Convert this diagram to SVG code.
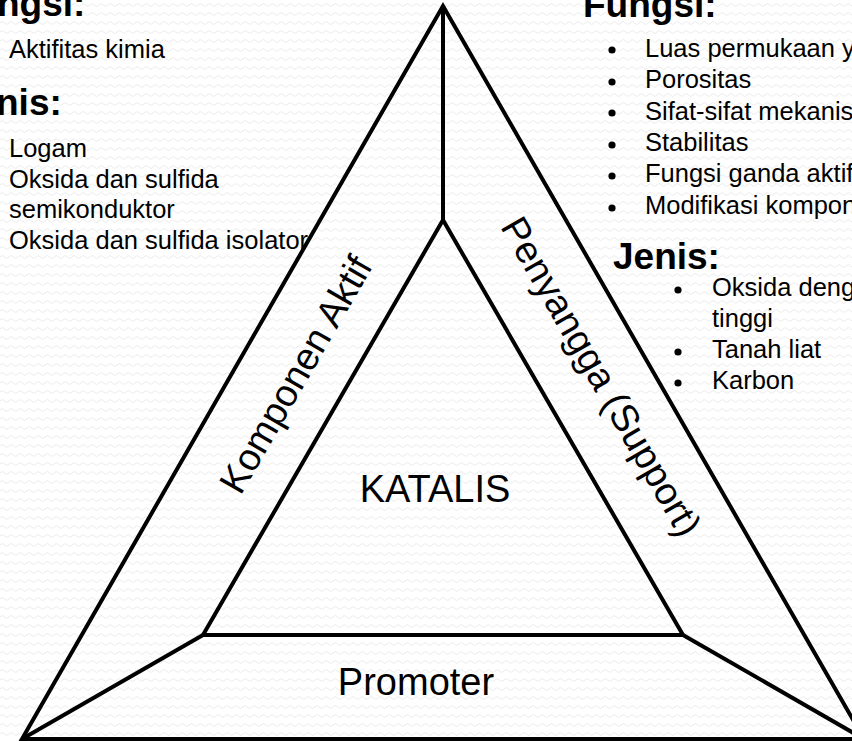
<svg xmlns="http://www.w3.org/2000/svg" width="852" height="741" viewBox="0 0 852 741">
  <defs>
    <pattern id="bgwave" width="9" height="9" patternUnits="userSpaceOnUse">
      <path d="M0 5 Q2.25 2 4.5 5 T9 5" fill="none" stroke="#e9e9e9" stroke-width="0.9"/>
    </pattern>
  </defs>
  <style>
    .edge { fill: none; stroke: #000; stroke-width: 4; stroke-linejoin: miter; stroke-linecap: butt; }
    .head { font-family: "Liberation Sans", Arial, sans-serif; font-weight: bold; font-size: 37px; fill: #000; }
    .body { font-family: "Liberation Sans", Arial, sans-serif; font-size: 25.5px; fill: #000; }
    .label { font-family: "Liberation Sans", Arial, sans-serif; font-size: 38px; fill: #000; text-anchor: middle; }
    .bullet { fill: #000; }
  </style>
  <rect x="0" y="0" width="852" height="741" fill="#fff"/>
  <rect x="0" y="0" width="852" height="741" fill="url(#bgwave)"/>

  <g id="connectors">
    <polygon class="edge" points="443,6 864,739 22,739"/>
    <polygon class="edge" points="443,220 683,635 203,635"/>
    <line class="edge" x1="443" y1="6" x2="443" y2="220"/>
    <line class="edge" x1="203" y1="635" x2="22" y2="739"/>
    <line class="edge" x1="683" y1="635" x2="864" y2="739"/>
  </g>

  <g id="katalis">
    <text class="label" x="435" y="502">KATALIS</text>
  </g>
  <g id="promoter">
    <text class="label" x="416" y="695">Promoter</text>
  </g>
  <g id="komponen-aktif">
    <text class="label" transform="translate(307,381) rotate(-60)" x="0" y="0">Komponen Aktif</text>
  </g>
  <g id="penyangga">
    <text class="label" transform="translate(590,383) rotate(60)" x="0" y="0">Penyangga (Support)</text>
  </g>

  <g id="left-info">
    <text class="head" x="-3" y="16">ngsi:</text>
    <text class="body" x="9" y="58">Aktifitas kimia</text>
    <text class="head" x="-4" y="115">nis:</text>
    <text class="body" x="9" y="157">Logam</text>
    <text class="body" x="9" y="188">Oksida dan sulfida</text>
    <text class="body" x="9" y="218">semikonduktor</text>
    <text class="body" x="9" y="249">Oksida dan sulfida isolator</text>
  </g>

  <g id="right-info">
    <text class="head" x="583" y="17">Fungsi:</text>
    <circle class="bullet" cx="612" cy="50" r="3.6"/>
    <text class="body" x="645" y="57">Luas permukaan y</text>
    <circle class="bullet" cx="612" cy="82" r="3.6"/>
    <text class="body" x="645" y="88">Porositas</text>
    <circle class="bullet" cx="612" cy="113" r="3.6"/>
    <text class="body" x="645" y="120">Sifat-sifat mekanis</text>
    <circle class="bullet" cx="612" cy="145" r="3.6"/>
    <text class="body" x="645" y="151">Stabilitas</text>
    <circle class="bullet" cx="612" cy="176" r="3.6"/>
    <text class="body" x="645" y="182">Fungsi ganda aktif</text>
    <circle class="bullet" cx="612" cy="208" r="3.6"/>
    <text class="body" x="645" y="214">Modifikasi kompon</text>

    <text class="head" x="613" y="269">Jenis:</text>
    <circle class="bullet" cx="678" cy="290" r="3.6"/>
    <text class="body" x="712" y="296">Oksida deng</text>
    <text class="body" x="712" y="327">tinggi</text>
    <circle class="bullet" cx="678" cy="352" r="3.6"/>
    <text class="body" x="712" y="358">Tanah liat</text>
    <circle class="bullet" cx="678" cy="383" r="3.6"/>
    <text class="body" x="712" y="389">Karbon</text>
  </g>
</svg>
